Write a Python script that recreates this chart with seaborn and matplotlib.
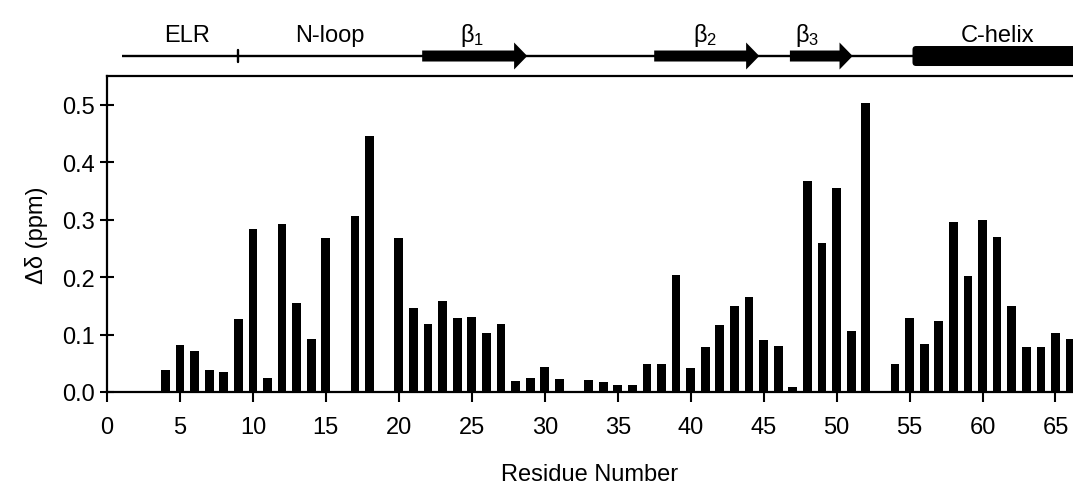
import matplotlib
matplotlib.use('Agg')
import matplotlib.pyplot as plt
from matplotlib.patches import FancyBboxPatch
import numpy as np
import pandas as pd
import seaborn as sns

# residue numbers that have a value (1-3, 16, 19, 32, 53 are missing)
residues = [4, 5, 6, 7, 8, 9, 10, 11, 12, 13, 14, 15, 17, 18, 20, 21, 22, 23,
            24, 25, 26, 27, 28, 29, 30, 31, 33, 34, 35, 36, 37, 38, 39, 40,
            41, 42, 43, 44, 45, 46, 47, 48, 49, 50, 51, 52, 54, 55, 56, 57,
            58, 59, 60, 61, 62, 63, 64, 65, 66]
shifts = [0.038, 0.081, 0.072, 0.039, 0.035, 0.127, 0.283, 0.025, 0.292, 0.155,
          0.092, 0.268, 0.306, 0.445, 0.268, 0.146, 0.118, 0.159,
          0.128, 0.130, 0.102, 0.118, 0.020, 0.024, 0.043, 0.022, 0.021, 0.017,
          0.012, 0.012, 0.049, 0.049, 0.204, 0.042,
          0.079, 0.117, 0.150, 0.165, 0.090, 0.080, 0.009, 0.367, 0.260, 0.355,
          0.106, 0.503, 0.048, 0.129, 0.083, 0.123,
          0.296, 0.202, 0.299, 0.269, 0.149, 0.079, 0.079, 0.103, 0.092]

# secondary structure (residue ranges)
loop_start = 1.0
elr_end = 9.0
strands = [(21.6, 28.8), (37.5, 44.7), (46.8, 51.1)]
helix_start = 55.2
region_labels = ['ELR', 'N-loop', r'$\mathregular{β_1}$', r'$\mathregular{β_2}$',
                 r'$\mathregular{β_3}$', 'C-helix']
label_pos = [5.5, 15.3, 25.0, 41.0, 48.0, 61.0]

XMAX = 66.2

sns.set_style('ticks')
plt.rcParams['font.family'] = ['Liberation Sans', 'DejaVu Sans']
plt.rcParams['axes.linewidth'] = 1.6
plt.rcParams['text.color'] = 'black'
plt.rcParams['axes.labelcolor'] = 'black'

df = pd.DataFrame({'residue': residues, 'shift': shifts})

fig = plt.figure(figsize=(10.73, 4.85), dpi=100)
ax = fig.add_axes([0.0997, 0.1897, 0.9003, 0.6515])
ax_top = fig.add_axes([0.0997, 0.8412, 0.9003, 0.1588], sharex=ax)

sns.barplot(data=df, x='residue', y='shift', native_scale=True, color='black',
            width=0.6, errorbar=None, linewidth=0, saturation=1, ax=ax)

ax.set_xlim(0, XMAX)
ax.set_ylim(0, 0.55)
ax.set_xticks(np.arange(0, 66, 5))
ax.set_yticks(np.arange(0, 0.51, 0.1))
ax.set_yticklabels([f'{v:.1f}' for v in np.arange(0, 0.51, 0.1)])
ax.tick_params(axis='both', labelsize=17, width=1.5, color='black',
               labelcolor='black')
ax.tick_params(axis='x', direction='out', length=7, pad=10)
ax.tick_params(axis='y', direction='inout', length=10, pad=4)
ax.set_xlabel('Residue Number', fontsize=17, labelpad=18, color='black')
ax.set_ylabel('Δδ (ppm)', fontsize=17, labelpad=10, color='black')
for s in ['left', 'bottom', 'top']:
    ax.spines[s].set_visible(True)
    ax.spines[s].set_color('black')
ax.spines['right'].set_visible(False)

# secondary structure cartoon, y in pixels of the top strip
ax_top.set_ylim(0, 77)
ax_top.axis('off')
y0 = 20
ax_top.plot([loop_start, XMAX], [y0, y0], color='black', lw=1.7,
            solid_capstyle='butt')
ax_top.plot([elr_end, elr_end], [y0 - 6, y0 + 6], color='black', lw=1.7)
for a, b in strands:
    ax_top.arrow(a, y0, b - a, 0, width=11, head_width=27, head_length=0.9,
                 length_includes_head=True, color='black', lw=0)
ax_top.add_patch(FancyBboxPatch((helix_start, y0 - 10), XMAX - helix_start + 1, 20,
                                boxstyle='round,pad=0,rounding_size=0.25',
                                mutation_aspect=14.6, color='black', lw=0,
                                clip_on=False))
for lab, xp in zip(region_labels, label_pos):
    ax_top.text(xp, 35, lab, fontsize=17, ha='center', va='baseline',
                color='black')

fig.savefig('out.png', dpi=100)
